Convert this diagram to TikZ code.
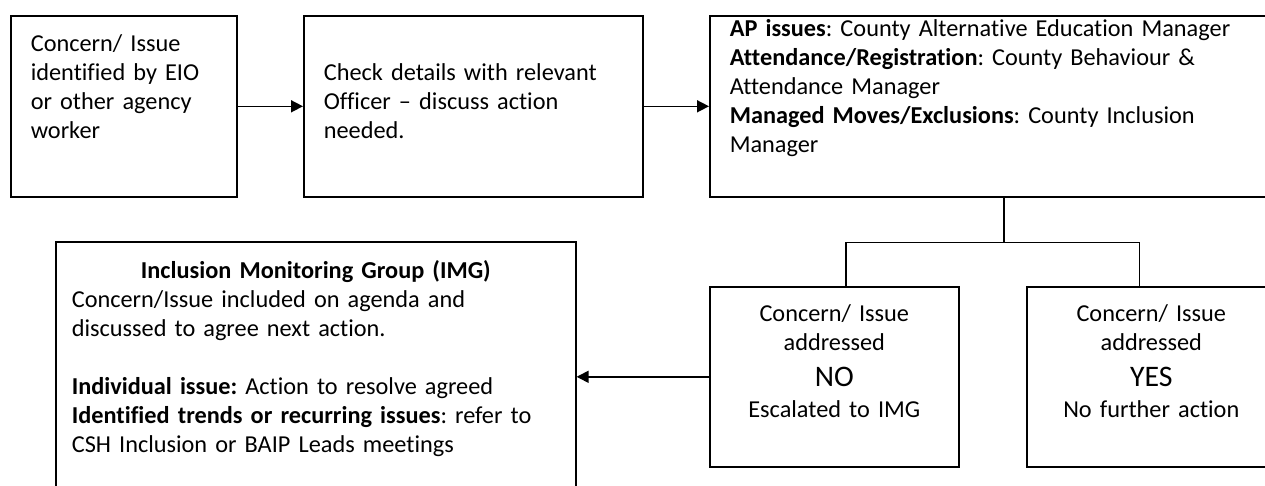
\documentclass[tikz,border=0pt]{standalone}
\usepackage{fontspec}
\setmainfont{Carlito}[Ligatures={TeX,NoCommon}]
\usetikzlibrary{arrows.meta}
\frenchspacing

\begin{document}
\begin{tikzpicture}[x=1pt, y=-1pt,
    box/.style={draw, line width=1.6pt, anchor=north west, inner xsep=20pt, inner ysep=0pt,
        align=left, font=\fontsize{24.3}{29}\selectfont},
    answer/.style={box, inner xsep=4pt, align=center, text width=241pt,
        text height=34.5pt, text depth=145.5pt},
    link/.style={line width=1.6pt},
    arrow/.style={link, -{Triangle[length=12pt,width=12pt]}}]
    % Page
    \useasboundingbox (0,0) rectangle (1265,485);
    \fill[white] (0,0) rectangle (1265,485);
    \clip (0,0) rectangle (1265,485);

    % Top row
    \node[box, text width=186pt, text height=35.5pt, text depth=145.5pt] (concern) at (10,15)
        {Concern/ Issue\\identified by EIO\\or other agency\\worker};
    \node[box, text width=299pt, text height=65pt, text depth=116pt] (check) at (303,15)
        {Check details with relevant\\Officer – discuss action\\needed.};
    \node[box, text width=548pt, text height=20.5pt, text depth=160.5pt] (officers) at (709,15)
        {\textbf{AP issues}: County Alternative Education Manager\\
         \textbf{Attendance/Registration}: County Behaviour \&\\
         Attendance Manager\\
         \textbf{Managed Moves/Exclusions}: County Inclusion\\
         Manager};

    % Answers
    \node[answer] (no) at (709,286)
        {Concern/ Issue\\addressed\\[7pt]{\fontsize{29.8}{35}\selectfont NO}\\[2pt]Escalated to IMG};
    \node[answer] (yes) at (1026,286)
        {Concern/ Issue\\addressed\\[7pt]{\fontsize{29.8}{35}\selectfont YES}\\[2pt]No further action};

    % Monitoring group
    \node[box, inner xsep=16pt, text width=488pt, text height=36.5pt, text depth=252.5pt] (img) at (55,241)
        {\makebox[\linewidth]{\textbf{Inclusion Monitoring Group (IMG)}}\\
         Concern/Issue included on agenda and\\
         discussed to agree next action.\\[29pt]
         \textbf{Individual issue:} Action to resolve agreed\\
         \textbf{Identified trends or recurring issues}: refer to\\
         CSH Inclusion or BAIP Leads meetings};

    % Connectors
    \draw[arrow] (concern) -- (check);
    \draw[arrow] (check) -- (officers);
    \draw[link] (officers.south) -- ++(0,45) coordinate (split);
    \draw[link] ([xshift=11.5pt]no.north) |- (split) -| ([xshift=-12pt]yes.north);
    \draw[arrow] (no.west) -- (no.west -| img.east);
\end{tikzpicture}
\end{document}
